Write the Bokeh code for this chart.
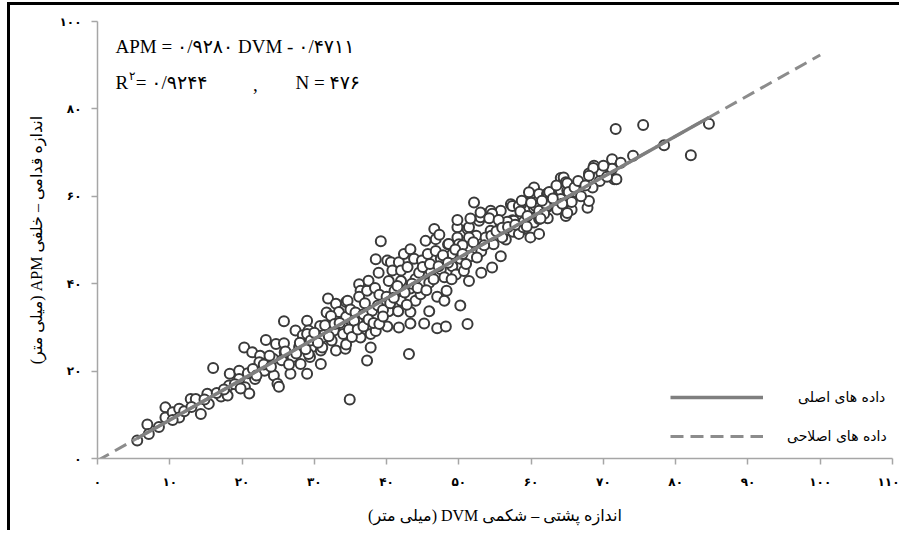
from bokeh.plotting import figure
from bokeh.models import Range1d, FixedTicker, Label, Legend, LegendItem
from bokeh.embed import file_html
from bokeh.resources import INLINE

# ---------------- data ----------------
DVM = [5.5, 6.9, 7.1, 8.5, 9.4, 9.4, 10.4, 11.3, 11.3, 10.4, 12.9, 13.6, 14.3, 15.2, 15.4, 16.0, 17.1, 18.0, 18.2, 18.3,
       19.6, 19.6, 20.3, 20.4, 21.0, 21.4, 21.8, 22.5, 22.4, 23.3, 23.1, 24.3, 24.4, 24.9, 25.1, 24.7, 25.8, 25.8, 25.9, 26.7,
       27.0, 27.4, 27.9, 28.1, 28.4, 29.0, 29.0, 29.2, 29.4, 29.7, 30.9, 30.9, 31.1, 31.4, 31.7, 31.9, 32.4, 33.0, 33.0, 33.0,
       33.4, 34.1, 34.3, 34.4, 34.9, 34.4,
       29.0, 29.2, 30.8, 31.1, 32.3, 32.7, 34.4, 34.6, 35.0, 35.7, 36.0, 36.2, 36.4, 36.2, 36.4, 37.3, 37.3, 37.5, 37.8, 37.8,
       38.4, 38.5, 38.5, 38.9, 39.2, 39.6, 40.1, 40.6, 40.8, 40.3, 40.1, 40.3, 41.1, 41.6, 41.7, 41.7, 42.0, 42.0, 42.0, 42.4,
       42.9, 43.1, 43.3, 43.3, 43.3, 43.3, 43.8, 44.0, 44.0, 44.7, 44.9, 45.2, 45.4, 45.7, 45.9, 45.9, 46.1, 46.6, 46.8, 46.8,
       47.0, 47.0, 47.5, 47.5, 48.0, 48.0, 48.2, 48.3, 48.5, 49.1, 49.1, 49.6, 49.8, 49.8, 50.0, 50.2, 50.2, 50.7, 51.2, 51.2,
       51.2, 51.4, 51.6, 52.1, 52.4, 52.8, 53.1, 53.1, 54.0, 54.4, 54.4, 54.6, 54.8, 55.8, 55.8, 55.8, 56.5, 57.2, 57.4, 57.5,
       58.6, 58.6, 59.0, 59.9, 60.4, 60.6, 61.1, 61.3, 62.2,
       51.4, 53.0, 57.4, 58.3, 60.4, 59.9, 61.1, 62.2, 63.8, 64.1, 60.4, 61.1, 62.2, 63.6, 57.6, 58.3, 58.9,
       71.7, 71.2, 68.7, 68.0, 69.7, 69.5, 71.5, 68.5, 67.8, 68.0, 66.9, 64.5, 64.8, 64.1, 65.0, 64.1, 65.6, 64.8, 65.6, 62.3,
       62.3, 59.7, 60.6, 61.1, 58.7, 56.7, 59.0, 59.4, 53.0, 54.6, 54.2, 55.5, 51.6, 49.8, 47.3, 51.4, 53.7, 56.0, 48.6, 50.5,
       75.5, 84.6, 78.4, 82.1, 74.1, 72.4, 71.2, 71.8, 68.6, 68.0, 65.0, 62.5, 65.2, 65.6, 64.3, 65.0, 62.0, 61.8, 61.3,
       35.5, 36.8, 37.0, 38.0, 38.8, 39.0, 39.5, 40.0, 40.5, 41.0, 41.5, 42.5, 42.8, 43.5, 44.3, 44.5, 45.0, 45.5, 46.0, 46.5,
       47.2, 47.8, 48.5, 49.0, 49.5, 50.5, 51.0, 52.0, 52.5, 53.5, 54.5, 55.2, 56.0, 56.8, 57.8, 58.5, 59.5, 60.0, 61.5, 63.0,
       63.5, 66.0, 66.5, 67.5, 70.5, 70.0,
       20.8, 21.5, 22.0, 23.0, 23.8, 24.0, 25.5, 26.0, 26.5, 27.5, 28.0, 28.8, 29.5, 30.0, 30.5, 31.5, 32.0, 32.8, 33.5, 34.0,
       34.8, 35.2, 36.0, 36.8, 37.5, 38.2, 39.0, 39.5, 12.0, 13.0, 14.8, 16.5, 17.5, 19.0, 19.8]

APM = [4.1, 7.8, 5.6, 7.2, 11.7, 9.4, 10.6, 11.4, 9.4, 8.8, 13.6, 13.6, 10.2, 14.8, 12.5, 20.7, 14.2, 14.4, 16.7, 19.4,
       20.1, 18.2, 25.4, 16.3, 14.9, 24.3, 18.2, 23.5, 22.0, 27.1, 20.1, 22.8, 19.0, 17.1, 16.4, 26.2, 31.4, 26.4, 24.3, 19.4,
       23.2, 29.3, 25.5, 21.6, 28.2, 31.5, 19.4, 29.3, 23.2, 25.5, 24.7, 21.6, 27.7, 29.3, 33.4, 36.6, 27.0, 35.4, 32.4, 24.7,
       33.5, 30.0, 25.1, 35.8, 13.5, 32.4,
       28.5, 23.9, 30.3, 25.4, 32.6, 29.3, 26.1, 36.1, 34.1, 33.4, 31.2, 39.9, 38.4, 37.0, 27.7, 38.4, 22.4, 40.7, 28.5, 25.4,
       39.0, 29.2, 45.6, 42.5, 49.7, 36.1, 45.3, 44.9, 43.0, 40.6, 30.2, 33.7, 38.4, 33.7, 30.0, 44.9, 43.0, 36.1, 40.6, 46.8,
       43.8, 23.9, 47.9, 30.9, 33.5, 38.9, 45.7, 41.1, 36.1, 37.6, 45.3, 30.9, 49.8, 46.8, 33.7, 40.2, 42.9, 52.5, 50.2, 47.5,
       29.8, 37.0, 45.7, 43.3, 41.5, 36.1, 30.2, 38.4, 49.0, 44.0, 46.8, 42.1, 52.9, 50.6, 49.0, 35.0, 45.7, 42.9, 52.5, 30.8,
       48.5, 40.6, 46.3, 58.6, 51.0, 54.4, 42.5, 47.4, 50.3, 56.7, 52.1, 43.7, 49.0, 56.7, 53.3, 46.3, 50.1, 58.2, 54.5, 51.9,
       58.2, 55.9, 52.5, 50.6, 54.0, 56.7, 51.4, 57.5, 57.5,
       52.9, 55.2, 57.8, 57.8, 62.0, 60.5, 60.5, 60.5, 61.5, 64.2, 57.3, 54.8, 57.8, 57.0, 54.4, 51.4, 52.9,
       75.4, 68.5, 67.0, 65.2, 65.4, 63.5, 63.9, 62.0, 57.4, 58.9, 60.0, 64.3, 63.2, 61.3, 61.3, 59.4, 59.0, 55.5, 56.9, 60.7,
       55.0, 60.9, 57.8, 56.7, 59.0, 54.2, 54.2, 53.1, 56.3, 56.0, 55.0, 54.6, 54.9, 54.6, 51.2, 50.6, 50.6, 50.6, 49.1, 48.8,
       76.3, 76.6, 71.7, 69.4, 69.3, 67.7, 66.3, 63.9, 66.5, 64.7, 63.0, 61.0, 61.0, 58.7, 58.3, 56.2, 58.3, 56.0, 54.9,
       31.5, 33.0, 35.5, 33.8, 35.0, 37.5, 34.0, 37.0, 35.5, 36.8, 39.5, 38.0, 35.2, 40.0, 39.0, 42.5, 43.8, 38.5, 44.5, 41.0,
       44.0, 46.5, 44.8, 41.0, 47.8, 46.8, 44.5, 49.5, 46.0, 48.8, 51.0, 52.0, 52.8, 53.0, 53.5, 56.5, 55.5, 58.5, 59.0, 59.5,
       62.5, 62.0, 63.5, 62.5, 64.5, 67.0,
       19.5, 20.5, 19.0, 21.5, 23.5, 21.0, 22.5, 24.5, 21.5, 24.0, 26.5, 25.0, 27.0, 28.8, 26.5, 30.5, 28.0, 30.8, 31.0, 28.5,
       29.5, 27.8, 29.5, 30.2, 31.8, 31.0, 30.8, 32.5, 10.8, 11.8, 13.5, 15.0, 15.8, 17.0, 16.0]

SLOPE = 0.9280
INTERCEPT = -0.4711
EXT_RANGE = [0, 100]

X_TICKS = [0, 10, 20, 30, 40, 50, 60, 70, 80, 90, 100, 110]
X_LABELS = ["۰", "۱۰", "۲۰", "۳۰", "۴۰", "۵۰", "۶۰", "۷۰", "۸۰", "۹۰", "۱۰۰", "۱۱۰"]
Y_TICKS = [0, 20, 40, 60, 80, 100]
Y_LABELS = ["۰", "۲۰", "۴۰", "۶۰", "۸۰", "۱۰۰"]

X_TITLE = "اندازه پشتی – شکمی DVM (میلی متر)"
Y_TITLE = "اندازه قدامی – خلفی APM (میلی متر)"
EQ_LINE = "APM = ۰/۹۲۸۰ DVM - ۰/۴۷۱۱"
R_TEXT = "R"
R_SUP = "۲"
R_VALUE = "= ۰/۹۲۴۴"
SEP = ","
N_TEXT = "N = ۴۷۶"
LEG_SOLID = "داده های اصلی"
LEG_DASH = "داده های اصلاحی"

RLE, PDF = "\u202B", "\u202C"
SERIF = "'Liberation Serif', 'DejaVu Sans'"
SANS = "'DejaVu Sans'"

# ---------------- figure ----------------
p = figure(width=892, height=528, output_backend="svg", toolbar_location=None,
           x_range=Range1d(0, 110), y_range=Range1d(0, 100),
           min_border_left=87, min_border_right=10, min_border_top=16, min_border_bottom=75)
p.styles = {"margin-left": "7px", "margin-top": "2px",
            "border-left": "3px solid black", "border-top": "3px solid black"}
p.background_fill_color = "white"
p.border_fill_color = "white"
p.outline_line_color = None
p.xgrid.visible = False
p.ygrid.visible = False

for ax in (p.xaxis[0], p.yaxis[0]):
    ax.axis_line_color = "#a6a6a6"
    ax.axis_line_width = 1.5
    ax.major_tick_line_color = "#a6a6a6"
    ax.major_tick_line_width = 1.5
    ax.major_tick_in = 0
    ax.major_tick_out = 6
    ax.minor_tick_in = 0
    ax.minor_tick_out = 0
    ax.major_label_text_font = SANS
    ax.major_label_text_font_size = "12px"
    ax.major_label_text_font_style = "bold"
    ax.major_label_text_color = "black"
    ax.axis_label_text_font = SERIF
    ax.axis_label_text_font_size = "16px"
    ax.axis_label_text_font_style = "normal"
    ax.axis_label_text_color = "black"

p.xaxis[0].ticker = FixedTicker(ticks=X_TICKS)
p.xaxis[0].major_label_overrides = dict(zip(X_TICKS, X_LABELS))
p.xaxis[0].major_label_standoff = 10
p.xaxis[0].axis_label = RLE + X_TITLE + PDF
p.xaxis[0].axis_label_standoff = 15

p.yaxis[0].ticker = FixedTicker(ticks=Y_TICKS)
p.yaxis[0].major_label_overrides = dict(zip(Y_TICKS, Y_LABELS))
p.yaxis[0].major_label_standoff = 10
p.yaxis[0].axis_label = RLE + Y_TITLE + PDF
p.yaxis[0].axis_label_standoff = 12

# scatter
p.scatter(DVM, APM, marker="circle", size=10, line_color="#3a3a3a", line_width=2, fill_color="white")

# fitted lines
ext_y = [SLOPE * v + INTERCEPT for v in EXT_RANGE]
dash_r = p.line(EXT_RANGE, ext_y, line_color="#8c8c8c", line_width=3, line_dash="13 7")
fit_x = [min(DVM), max(DVM)]
fit_y = [SLOPE * v + INTERCEPT for v in fit_x]
solid_r = p.line(fit_x, fit_y, line_color="#7f7f7f", line_width=3.5)

common = dict(padding=0, margin=0, glyph_width=93, glyph_height=20, label_height=20,
              label_text_font=SANS, label_text_font_size="14px", label_text_color="black",
              background_fill_alpha=0, border_line_alpha=0)
leg1 = Legend(items=[LegendItem(label=LEG_SOLID, renderers=[solid_r])],
              location=(573, 51), label_standoff=35, **common)
leg2 = Legend(items=[LegendItem(label=LEG_DASH, renderers=[dash_r])],
              location=(573, 12), label_standoff=24, **common)
p.add_layout(leg1, "center")
p.add_layout(leg2, "center")

# equation annotations
def lab(x, y, text, size="19px"):
    p.add_layout(Label(x=x, y=y, text=text, text_font=SERIF, text_font_size=size,
                       text_color="black", text_baseline="middle", text_align="left"))

lab(2.5, 94.2, EQ_LINE)
lab(2.5, 86.0, R_TEXT)
lab(4.35, 87.6, R_SUP, "12px")
lab(5.3, 86.0, R_VALUE)
lab(21.5, 85.5, SEP)
lab(27.4, 86.0, N_TEXT)

open("out.html", "w").write(file_html(p, INLINE))
